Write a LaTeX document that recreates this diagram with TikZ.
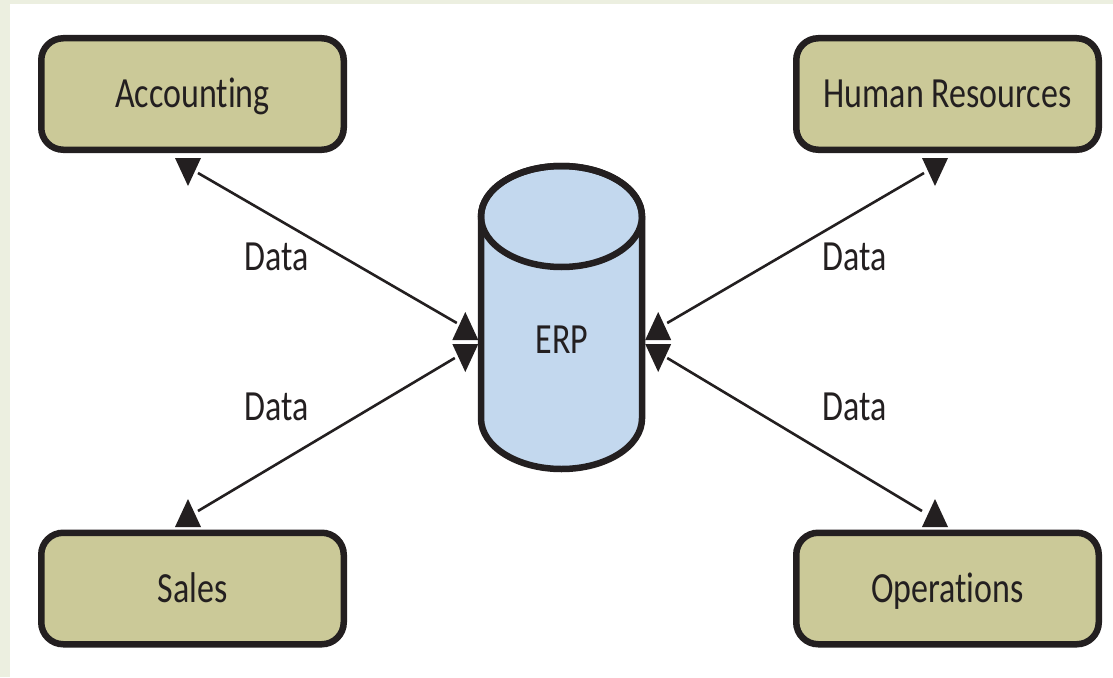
\documentclass[tikz,border=0pt]{standalone}
\usepackage{fontspec}
\setmainfont{Carlito}[FakeStretch=0.79, Ligatures=NoCommon]
\usetikzlibrary{calc}
\definecolor{ink}{HTML}{231F20}
\definecolor{boxfill}{HTML}{CBC998}
\definecolor{cylfill}{HTML}{C3D8EE}
\definecolor{strip}{HTML}{ECEFE0}
\tikzset{
  txt/.style={font=\fontsize{43pt}{43pt}\selectfont, text=ink, inner sep=0pt, text height=27.7pt, text depth=0pt},
  dept/.style={txt, draw=ink, line width=6.5pt, fill=boxfill, rounded corners=22pt,
               minimum width=302.5pt, minimum height=111.5pt},
  link/.style={draw=ink, line width=2.6pt},
  cyl/.style={draw=ink, line width=6.5pt, fill=cylfill},
  ahead/.pic={\fill[ink] (-13,0) -- (13,0) -- (0,28) -- cycle;}
}
\begin{document}
\begin{tikzpicture}[x=1pt,y=-1pt]
\useasboundingbox (0,0) rectangle (1113,677);
\fill[strip] (0,0) rectangle (1113,677);
\fill[white] (10,4) rectangle (1113,677);

% department boxes
\node[dept] (acc) at (192.5,94) {Accounting};
\node[dept] (hr)  at (947.5,94) {Human Resources};
\node[dept] (sal) at (192.5,588.5) {Sales};
\node[dept] (ops) at (947.5,588.5) {Operations};

% ERP cylinder
\node[minimum width=161pt, minimum height=303pt, inner sep=0pt] (erp) at (561.5,317.5) {};
\path[cyl] (481,216.5) -- (481,418.5)
  arc[start angle=180, end angle=0, x radius=80.5, y radius=50.5]
  -- (642,216.5)
  arc[start angle=0, end angle=-180, x radius=80.5, y radius=50.5] -- cycle;
\draw[ink, line width=6.5pt] (erp.center |- 0,216.5) ellipse [x radius=80.5, y radius=50.5];
\node[txt] (erptxt) at (562,340) {ERP};

% connector end points
\coordinate (accE) at ($(acc.south)+(5.5,20)$);
\coordinate (hrE)  at ($(hr.south)+(-23.5,20)$);
\coordinate (salE) at ($(sal.north)+(5.5,-18.5)$);
\coordinate (opsE) at ($(ops.north)+(-25.5,-18.5)$);
\coordinate (eAcc) at ($(erp.west)+(-24,5.5)$);
\coordinate (eSal) at ($(erp.west)+(-26,40.5)$);
\coordinate (eHr)  at ($(erp.east)+(25,5.5)$);
\coordinate (eOps) at ($(erp.east)+(25,40.5)$);

\draw[link] (accE) -- (eAcc);
\draw[link] (salE) -- (eSal);
\draw[link] (hrE) -- (eHr);
\draw[link] (opsE) -- (eOps);

% arrow heads
\pic at ($(acc.south)+(-4.5,5)$) {ahead};
\pic at ($(hr.south)+(-12.5,5)$) {ahead};
\pic[yscale=-1] at ($(sal.north)+(-4.5,-2.5)$) {ahead};
\pic[yscale=-1] at ($(ops.north)+(-12.5,-2.5)$) {ahead};
\pic[yscale=-1] at ($(erp.west)+(-15.5,22.5)$) {ahead};
\pic at ($(erp.west)+(-15.5,26.5)$) {ahead};
\pic[yscale=-1] at ($(erp.east)+(16,22.5)$) {ahead};
\pic at ($(erp.east)+(16,26.5)$) {ahead};

% labels
\node[txt] (d1) at (277,256.5) {Data};
\node[txt] (d2) at (277,407) {Data};
\node[txt] (d3) at (855,256.5) {Data};
\node[txt] (d4) at (855,407) {Data};
\end{tikzpicture}
\end{document}
